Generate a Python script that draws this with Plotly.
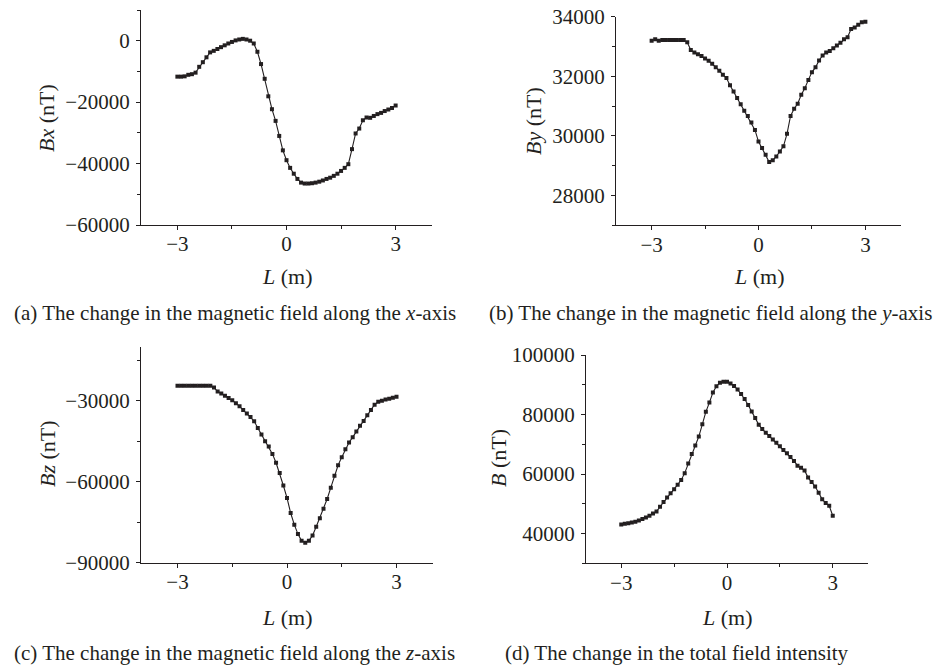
import plotly.graph_objects as go

# Position along the measuring line, metres
L = [-3.0, -2.9, -2.8, -2.7, -2.6, -2.5, -2.4, -2.3, -2.2, -2.1,
     -2.0, -1.9, -1.8, -1.7, -1.6, -1.5, -1.4, -1.3, -1.2, -1.1,
     -1.0, -0.9, -0.8, -0.7, -0.6, -0.5, -0.4, -0.3, -0.2, -0.1,
     0.0, 0.1, 0.2, 0.3, 0.4, 0.5, 0.6, 0.7, 0.8, 0.9,
     1.0, 1.1, 1.2, 1.3, 1.4, 1.5, 1.6, 1.7, 1.8, 1.9,
     2.0, 2.1, 2.2, 2.3, 2.4, 2.5, 2.6, 2.7, 2.8, 2.9, 3.0]

# Field components, nT
Bx = [-11700, -11700, -11600, -11100, -10900, -10400, -8500, -7000, -5400, -3800,
      -3300, -2700, -2100, -1500, -900, -400, 100, 400, 600, 400,
      0, -900, -3600, -7600, -12400, -18100, -22300, -26100, -31000, -35700,
      -38900, -41400, -43300, -45000, -46200, -46500, -46500, -46400, -46200, -45900,
      -45500, -45000, -44600, -44000, -43300, -42400, -41400, -40200, -35300, -30200,
      -28600, -25900, -25000, -25100, -24500, -23900, -23500, -22900, -22400, -21900, -21100]

By = [33190, 33240, 33190, 33220, 33220, 33220, 33220, 33220, 33220, 33220,
      33140, 32880, 32800, 32740, 32680, 32600, 32520, 32420, 32300, 32190,
      32050, 31940, 31700, 31490, 31270, 31060, 30840, 30670, 30450, 30200,
      29810, 29590, 29370, 29120, 29180, 29310, 29480, 29650, 30070, 30670,
      30910, 31080, 31380, 31600, 31880, 32140, 32300, 32530, 32700, 32800,
      32850, 32940, 33030, 33130, 33240, 33310, 33590, 33640, 33730, 33810, 33830]

Bz = [-24500, -24500, -24500, -24500, -24500, -24500, -24500, -24500, -24500, -24500,
      -25100, -26600, -27300, -28200, -29000, -29800, -30900, -32100, -33400, -34700,
      -36000, -37600, -40100, -42500, -45000, -47000, -49700, -53000, -56800, -61400,
      -66000, -71600, -75900, -79400, -81900, -82600, -81900, -79900, -76700, -73500,
      -70000, -66400, -62200, -57800, -53900, -50900, -48000, -45500, -43500, -41400,
      -39300, -37500, -35400, -33400, -31500, -30400, -30000, -29600, -29300, -28900, -28500]

B = [43000, 43300, 43500, 43700, 44000, 44400, 44900, 45400, 46000, 46700,
     47400, 49000, 50600, 52100, 53500, 54900, 56400, 58000, 60300, 63500,
     66700, 69600, 72600, 76700, 80900, 84000, 87400, 89500, 90700, 91000,
     91000, 90400, 89600, 88400, 86900, 85200, 83200, 81000, 78800, 76600,
     75100, 73900, 72800, 71600, 70500, 69300, 68100, 67000, 65700, 64400,
     62800, 62100, 61200, 58800, 57300, 55800, 53700, 51500, 50300, 49300, 46000]

Y_TITLES = ["<i>Bx</i> (nT)", "<i>By</i> (nT)", "<i>Bz</i> (nT)", "<i>B</i> (nT)"]
CAPTIONS = [
    "(a) The change in the magnetic field along the <i>x</i>-axis",
    "(b) The change in the magnetic field along the <i>y</i>-axis",
    "(c) The change in the magnetic field along the <i>z</i>-axis",
    "(d) The change in the total field intensity",
]

W, H = 937, 667
INK = "#231f20"
FONT = "Liberation Serif"

# Panel geometry in pixels: x0, x1, ytop, ybottom, y range, major/minor y step
panels = [
    dict(x0=141, x1=432, yt=10, yb=225, yr=[-60000, 10000], dy=20000, my=10000,
         ytx=47, yty=118, xtx=287, xty=277, cx=235, cy=313, data=Bx),
    dict(x0=616, x1=901, yt=16.7, yb=225.3, yr=[27000, 34000], dy=2000, my=1000,
         ytx=533, yty=121, xtx=759, xty=277, cx=710, cy=313, data=By),
    dict(x0=141, x1=433, yt=346.7, yb=562.7, yr=[-90000, -10000], dy=30000, my=15000,
         ytx=47, yty=454, xtx=287, xty=617, cx=234, cy=653, data=Bz),
    dict(x0=586, x1=868, yt=355, yb=563.3, yr=[30000, 100000], dy=20000, my=10000,
         ytx=498, yty=458, xtx=727, xty=617, cx=677, cy=653, data=B),
]

fig = go.Figure()
layout = dict(
    width=W, height=H,
    margin=dict(l=0, r=0, t=0, b=0, pad=0),
    paper_bgcolor="white", plot_bgcolor="white",
    showlegend=False,
    font=dict(family=FONT, size=21, color=INK),
    annotations=[],
)

for k, p in enumerate(panels):
    n = "" if k == 0 else str(k + 1)
    fig.add_trace(go.Scatter(
        x=L, y=p["data"], mode="lines+markers",
        xaxis="x" + n, yaxis="y" + n,
        line=dict(color=INK, width=1.1),
        marker=dict(symbol="square", size=4, color=INK),
    ))
    common = dict(
        showgrid=False, zeroline=False, showline=True, linecolor=INK, linewidth=1.2,
        ticks="outside", ticklen=4, tickwidth=1, tickcolor=INK,
        tickfont=dict(family=FONT, size=21, color=INK),
        tickformat="d", automargin=False,
    )
    layout["xaxis" + n] = dict(
        common, domain=[p["x0"] / W, p["x1"] / W], range=[-4, 4],
        anchor="y" + n, tick0=0, dtick=3, ticklabelstandoff=-4,
        minor=dict(ticks="outside", ticklen=3, tickcolor=INK, dtick=1.5, tick0=0),
    )
    layout["yaxis" + n] = dict(
        common, domain=[1 - p["yb"] / H, 1 - p["yt"] / H], range=p["yr"],
        anchor="x" + n, tick0=0, dtick=p["dy"], ticklabelstandoff=2,
        minor=dict(ticks="outside", ticklen=3, tickcolor=INK, dtick=p["my"], tick0=0),
    )
    layout["annotations"] += [
        dict(text=Y_TITLES[k], x=p["ytx"] / W, y=1 - p["yty"] / H,
             xref="paper", yref="paper", showarrow=False, textangle=-90,
             xanchor="center", yanchor="middle", font=dict(size=22)),
        dict(text="<i>L</i> (m)", x=p["xtx"] / W, y=1 - p["xty"] / H,
             xref="paper", yref="paper", showarrow=False,
             xanchor="center", yanchor="middle", font=dict(size=22)),
        dict(text=CAPTIONS[k], x=p["cx"] / W, y=1 - p["cy"] / H,
             xref="paper", yref="paper", showarrow=False,
             xanchor="center", yanchor="middle", font=dict(size=21)),
    ]

fig.update_layout(**layout)
fig.write_html("out.html")
